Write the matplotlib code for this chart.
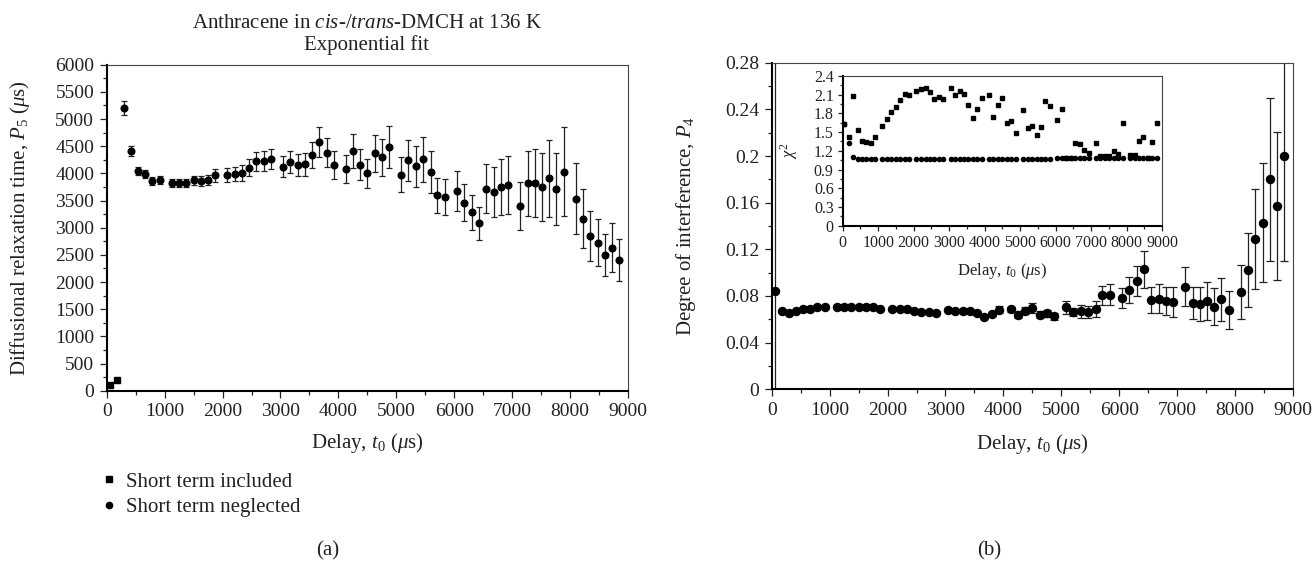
import matplotlib
matplotlib.use("Agg")
import matplotlib.pyplot as plt
from matplotlib.ticker import MultipleLocator, FuncFormatter
from matplotlib.lines import Line2D

plt.rcParams['font.family'] = ['Liberation Serif', 'DejaVu Serif']
plt.rcParams['mathtext.fontset'] = 'custom'
plt.rcParams['mathtext.rm'] = 'Liberation Serif'
plt.rcParams['mathtext.it'] = 'Liberation Serif:italic'
plt.rcParams['mathtext.bf'] = 'Liberation Serif:bold'

#delay times t0 (us), shared by both panels and the inset
delay = [50, 170, 295, 420, 545, 665, 790, 915,
         1120, 1245, 1375, 1500, 1625, 1750, 1875,
         2080, 2210, 2335, 2460, 2585, 2715, 2840,
         3045, 3170, 3300, 3420, 3545, 3670, 3795, 3920,
         4125, 4250, 4375, 4500, 4625, 4755, 4880,
         5085, 5210, 5340, 5465, 5595, 5710, 5845,
         6050, 6175, 6300, 6425, 6550, 6680, 6805, 6930,
         7140, 7265, 7390, 7515, 7640, 7765, 7890,
         8100, 8225, 8350, 8475, 8600, 8725, 8845]

#panel (a): diffusional relaxation time P5 (us)
p5_included = [100, 195]          #first two delays, short term included
p5_neglected = [5200, 4420, 4040, 3980, 3855, 3875,
                3815, 3815, 3830, 3875, 3865, 3875, 3965,
                3965, 3990, 4010, 4105, 4225, 4230, 4265,
                4125, 4210, 4150, 4165, 4335, 4575, 4380, 4150,
                4085, 4415, 4160, 4000, 4370, 4300, 4480,
                3975, 4245, 4135, 4260, 4025, 3595, 3570,
                3670, 3460, 3285, 3080, 3720, 3665, 3750, 3785,
                3400, 3815, 3830, 3745, 3910, 3710, 4030,
                3535, 3165, 2850, 2725, 2505, 2630, 2405]
p5_neglected_err = [130, 92, 70, 74, 74, 70,
                    74, 74, 74, 83, 89, 92, 123,
                    129, 129, 144, 153, 175, 178, 190,
                    187, 205, 205, 212, 242, 282, 267, 255,
                    255, 310, 282, 270, 340, 340, 390,
                    320, 377, 377, 417, 393, 320, 334,
                    371, 340, 325, 298, 454, 460, 518, 537,
                    448, 595, 626, 623, 705, 660, 822,
                    647, 546, 460, 439, 386, 448, 390]

#panel (b): degree of interference P4
p4 = [0.0843, 0.0674, 0.0651, 0.0674, 0.0691, 0.0691, 0.0703, 0.0703,
      0.0709, 0.0709, 0.0706, 0.0703, 0.0703, 0.0703, 0.0691,
      0.0691, 0.0691, 0.0686, 0.0674, 0.0663, 0.0663, 0.0657,
      0.0680, 0.0669, 0.0674, 0.0674, 0.0651, 0.0623, 0.0646, 0.0680,
      0.0686, 0.0640, 0.0673, 0.0696, 0.0639, 0.0651, 0.0628,
      0.0702, 0.0662, 0.0668, 0.0662, 0.0690, 0.0805, 0.0811,
      0.0782, 0.0850, 0.0925, 0.1028, 0.0765, 0.0776, 0.0754, 0.0748,
      0.0879, 0.0737, 0.0731, 0.0760, 0.0708, 0.0771, 0.0680,
      0.0833, 0.1022, 0.1290, 0.1427, 0.1799, 0.1570, 0.2004]
p4_err = [0.30, 0.001, 0.001, 0.001, 0.001, 0.001, 0.001, 0.001,
          0.001, 0.001, 0.001, 0.001, 0.001, 0.001, 0.001,
          0.001, 0.001, 0.001, 0.001, 0.001, 0.001, 0.001,
          0.001, 0.001, 0.001, 0.001, 0.0012, 0.0015, 0.0015, 0.003,
          0.002, 0.003, 0.003, 0.004, 0.003, 0.003, 0.003,
          0.0054, 0.0037, 0.0057, 0.0049, 0.0066, 0.0083, 0.0089,
          0.0089, 0.0109, 0.0129, 0.0157, 0.0110, 0.0123, 0.0120, 0.0126,
          0.0169, 0.0137, 0.0143, 0.0163, 0.0157, 0.0186, 0.0166,
          0.0229, 0.0314, 0.0431, 0.0509, 0.0697, 0.0637, 0.0900]

#inset: chi squared of the fits
chi2_included = [1.631, 1.417, 2.080, 1.540, 1.364, 1.342, 1.321, 1.422,
                 1.594, 1.717, 1.829, 1.904, 2.021, 2.107, 2.102,
                 2.166, 2.193, 2.203, 2.139, 2.037, 2.070, 2.037,
                 2.203, 2.102, 2.160, 2.118, 1.930, 1.727, 1.866, 2.053,
                 2.102, 1.738, 1.936, 2.043, 1.642, 1.674, 1.487,
                 1.856, 1.567, 1.599, 1.460, 1.583, 1.995, 1.920,
                 1.695, 1.872, 1.080, 1.080, 1.326, 1.310, 1.214, 1.160,
                 1.326, 1.123, 1.123, 1.123, 1.198, 1.155, 1.652,
                 1.134, 1.134, 1.353, 1.417, 1.080, 1.342, 1.642]
chi2_neglected = [1.630, 1.330, 1.107, 1.070, 1.065, 1.065, 1.065, 1.065] + [1.07] * 36 + [1.08] * 22

W, H = 1315, 562
TXT = '#222222'


def style_axes(ax, labelsize, major_len, minor_len, pad):
    """thick black left/bottom spines, thin grey top/right, outward ticks"""
    for side in ['left', 'bottom']:
        ax.spines[side].set_linewidth(1.5)
        ax.spines[side].set_color('black')
    for side in ['top', 'right']:
        ax.spines[side].set_linewidth(0.8)
        ax.spines[side].set_color('#444444')
    ax.tick_params(which='both', direction='out', top=False, right=False,
                   labelsize=labelsize, width=0.9, color=TXT, pad=pad, labelcolor=TXT)
    ax.tick_params(which='major', length=major_len)
    ax.tick_params(which='minor', length=minor_len)


plain = FuncFormatter(lambda v, p: f"{v:g}")

fig = plt.figure(figsize=(W / 100, H / 100), dpi=100)

#-----Panel (a)-----#
ax_a = fig.add_axes([106.7 / W, 1 - 390.7 / H, 521.3 / W, 326 / H])
ax_a.errorbar(delay[2:], p5_neglected, yerr=p5_neglected_err, fmt='o', ms=4.8,
              color='black', ecolor=TXT, elinewidth=0.9, capsize=2.2, capthick=0.9)
ax_a.plot(delay[:2], p5_included, 's', ms=4.6, color='black')
ax_a.set_xlim(0, 9000)
ax_a.set_ylim(0, 6000)
ax_a.xaxis.set_major_locator(MultipleLocator(1000))
ax_a.xaxis.set_minor_locator(MultipleLocator(500))
ax_a.yaxis.set_major_locator(MultipleLocator(500))
ax_a.yaxis.set_minor_locator(MultipleLocator(250))
style_axes(ax_a, 14, 5, 3, 4)
ax_a.set_xlabel(r"Delay, $t_0$ ($\mu$s)", fontsize=15, color=TXT)
ax_a.xaxis.set_label_coords(0.5, -0.125)
ax_a.set_ylabel(r"Diffusional relaxation time, $P_5$ ($\mu$s)", fontsize=15, color=TXT)
ax_a.yaxis.set_label_coords(-0.143, 0.5)

fig.text(367 / W, 1 - 24 / H, r"Anthracene in $\mathit{cis}$-/$\mathit{trans}$-DMCH at 136 K",
         ha='center', va='center', fontsize=15, color=TXT)
fig.text(367 / W, 1 - 45 / H, "Exponential fit", ha='center', va='center', fontsize=15, color=TXT)

#legend below panel (a)
handles = [Line2D([], [], marker='s', ls='none', ms=4.5, color='black'),
           Line2D([], [], marker='o', ls='none', ms=4.5, color='black')]
fig.legend(handles, ["Short term included", "Short term neglected"], loc='upper left',
           bbox_to_anchor=(103 / W, 1 - 472 / H), frameon=False, fontsize=15,
           handlelength=0.6, handletextpad=0.5, labelspacing=0.3, borderpad=0, borderaxespad=0,
           labelcolor=TXT)
fig.text(328 / W, 1 - 551 / H, "(a)", ha='center', va='center', fontsize=15, color=TXT)

#-----Panel (b)-----#
ax_b = fig.add_axes([771.7 / W, 1 - 389.3 / H, 521.3 / W, 326.6 / H])
ax_b.errorbar(delay, p4, yerr=p4_err, fmt='o', ms=5.8, color='black', ecolor=TXT,
              elinewidth=0.9, capsize=3, capthick=0.9)
ax_b.set_xlim(0, 9000)
ax_b.set_ylim(0, 0.28)
ax_b.xaxis.set_major_locator(MultipleLocator(1000))
ax_b.xaxis.set_minor_locator(MultipleLocator(500))
ax_b.yaxis.set_major_locator(MultipleLocator(0.04))
ax_b.yaxis.set_minor_locator(MultipleLocator(0.02))
ax_b.yaxis.set_major_formatter(plain)
style_axes(ax_b, 14, 5, 3, 4)
ax_b.set_xlabel(r"Delay, $t_0$ ($\mu$s)", fontsize=15, color=TXT)
ax_b.xaxis.set_label_coords(0.5, -0.13)
ax_b.set_ylabel(r"Degree of interference, $P_4$", fontsize=15, color=TXT)
ax_b.yaxis.set_label_coords(-0.141, 0.5)
fig.text(989 / W, 1 - 551 / H, "(b)", ha='center', va='center', fontsize=15, color=TXT)

#-----Inset: chi squared-----#
ax_in = fig.add_axes([842.7 / W, 1 - 225.7 / H, 319.3 / W, 149.7 / H])
ax_in.set_zorder(3)
ax_in.set_facecolor('white')
ax_in.plot(delay, chi2_included, 's', ms=3.4, color='black')
ax_in.plot(delay, chi2_neglected, 'o', ms=3.0, color='black')
ax_in.set_xlim(0, 9000)
ax_in.set_ylim(0, 2.4)
ax_in.xaxis.set_major_locator(MultipleLocator(1000))
ax_in.xaxis.set_minor_locator(MultipleLocator(500))
ax_in.yaxis.set_major_locator(MultipleLocator(0.3))
ax_in.yaxis.set_minor_locator(MultipleLocator(0.15))
ax_in.yaxis.set_major_formatter(plain)
style_axes(ax_in, 11.5, 3.5, 2, 3)
ax_in.set_xlabel(r"Delay, $t_0$ ($\mu$s)", fontsize=12, color=TXT)
ax_in.xaxis.set_label_coords(0.5, -0.235)
ax_in.set_ylabel(r"$\chi^2$", fontsize=12, color=TXT)
ax_in.yaxis.set_label_coords(-0.135, 0.5)

fig.savefig("out.png", dpi=100)
